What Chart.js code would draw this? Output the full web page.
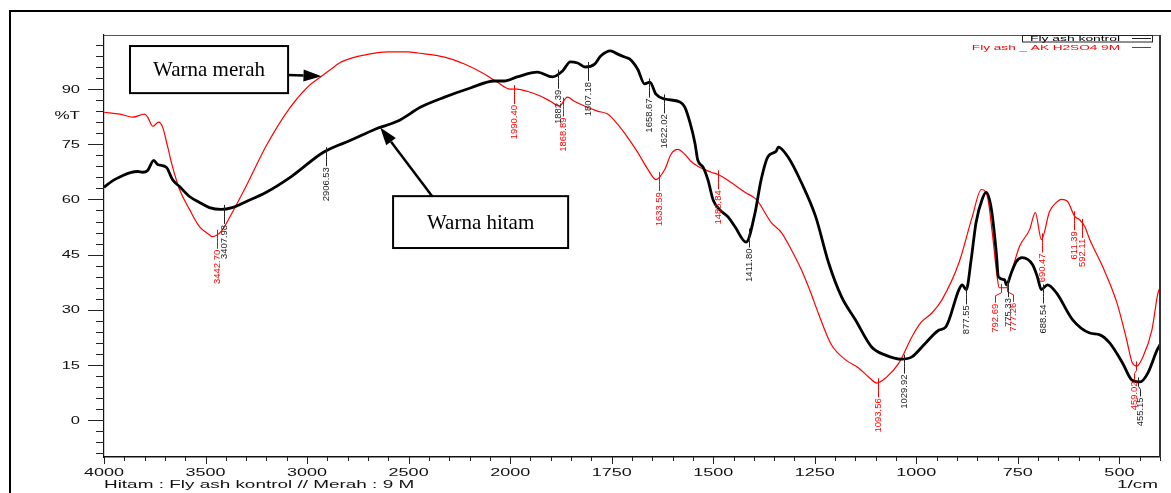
<!DOCTYPE html>
<html>
<head>
<meta charset="utf-8">
<script src="https://cdn.jsdelivr.net/npm/chart.js@4.4.1/dist/chart.umd.min.js"></script>
<style>
  html, body { margin: 0; padding: 0; background: #fff; }
  #wrap { width: 1171px; height: 493px; }
</style>
</head>
<body>
<div id="wrap"><canvas id="ftir" width="1171" height="493"></canvas></div>
<script>
// FTIR spectra, wavenumber (1/cm) vs %T
const blackWn = [4000,3960,3907,3870,3834,3809,3785,3755,3736,3692,3663,3628,3579,3530,3481,3423,3369,3301,3203,3076,2929,2861,2797,2665,2553,2440,2323,2196,2078,2029,1983,1933,1896,1871,1852,1834,1815,1792,1777,1753,1735,1718,1706,1686,1669,1656,1641,1619,1582,1570,1557,1545,1538,1525,1513,1500,1483,1463,1446,1419,1397,1382,1365,1345,1340,1315,1283,1248,1216,1184,1150,1110,1076,1036,1011,977,944,927,895,887,877,865,853,838,828,815,803,798,783,778,766,754,739,714,702,692,677,655,615,573,548,524,492,469,449,430,407,400];
const blackT  = [63.3,65.0,66.5,67.3,67.6,67.4,67.9,70.6,69.5,68.7,65.4,63.5,60.8,59.2,57.8,57.3,57.8,59.4,61.9,66.3,72.5,74.4,75.8,79.1,81.3,85.1,87.8,90.3,92.2,92.2,93.3,94.6,93.3,94.9,97.4,97.1,96.0,96.8,99.0,100.4,99.5,98.7,98.2,95.4,91.4,91.9,88.6,87.3,86.5,85.1,80.8,75.3,70.7,68.8,65.3,59.8,57.1,55.2,52.5,48.4,56.4,65.4,71.7,73.1,74.2,71.4,64.6,55.4,42.8,33.5,27.3,19.9,17.7,16.6,17.2,21.0,24.5,25.4,35.5,36.8,35.5,43.6,53.7,60.0,61.9,57.3,45.5,39.0,38.2,36.8,40.1,43.1,44.2,42.3,39.0,35.5,36.8,34.6,27.3,23.7,23.2,21.0,15.5,10.9,10.4,12.8,19.1,20.5];

const redWn = [4000,3922,3858,3800,3785,3760,3731,3711,3687,3663,3628,3579,3530,3481,3467,3423,3369,3301,3203,3090,2993,2929,2861,2831,2714,2601,2504,2455,2323,2225,2127,2064,2000,1983,1958,1926,1901,1879,1859,1842,1817,1785,1760,1735,1716,1686,1661,1641,1619,1604,1587,1570,1555,1538,1505,1488,1456,1421,1394,1357,1332,1308,1283,1261,1241,1209,1174,1142,1117,1097,1075,1043,1011,989,961,937,895,862,840,825,813,801,796,778,766,746,721,707,692,672,655,643,628,610,598,585,573,541,506,482,469,457,442,420,405,400];
const redT  = [83.7,83.2,82.4,83.2,82.4,79.9,81.0,79.6,74.4,69.0,62.7,57.3,52.6,50.4,49.9,51.3,56.4,63.5,74.4,84.5,90.8,93.5,96.3,97.4,99.3,100.1,100.1,99.8,98.7,96.8,94.1,91.9,90.0,90.0,89.4,88.1,86.7,85.4,87.8,86.7,85.4,84.0,83.2,80.4,77.7,72.8,68.2,65.4,68.2,72.3,73.6,72.3,70.4,69.0,67.4,66.8,64.6,61.9,60.0,53.7,51.0,46.4,40.9,35.0,29.0,20.5,16.4,14.2,11.7,10.1,11.5,15.5,22.6,26.5,29.2,32.7,42.8,55.4,62.7,60.8,51.0,39.0,36.0,36.0,40.1,47.2,51.8,56.4,49.1,56.7,59.2,60.0,59.5,55.4,54.5,52.6,49.1,41.7,31.9,21.8,15.8,14.7,17.2,24.5,34.6,36.0];

const blackPeaks = [3407.98, 2906.53, 1882.39, 1807.18, 1658.67, 1622.02, 1411.80, 1029.92, 877.55, 775.33, 688.54, 455.15];
const redPeaks   = [3442.70, 1990.40, 1868.89, 1633.59, 1488.84, 1093.56, 792.69, 777.26, 690.47, 611.39, 592.11, 459.02];

const xTickLabels = [4000, 3500, 3000, 2500, 2000, 1750, 1500, 1250, 1000, 750, 500];
const yTickLabels = [0, 15, 30, 45, 60, 75, 90];

// the instrument changes its x scale at 2000 1/cm (500 per division above, 250 below)
const toU = w => w >= 2000 ? (4000 - w) / 500 : 4 + (2000 - w) / 250;

function valueAt(wns, ts, w) {
  for (let i = 0; i < wns.length - 1; i++) {
    if (w <= wns[i] && w >= wns[i + 1]) {
      const f = (wns[i] - w) / (wns[i] - wns[i + 1]);
      return ts[i] + f * (ts[i + 1] - ts[i]);
    }
  }
  return ts[ts.length - 1];
}

function sText(ctx, str, x, y, sx, align, font, color) {
  ctx.save();
  ctx.translate(x, y);
  ctx.scale(sx, 1);
  ctx.font = font;
  ctx.fillStyle = color || '#000';
  ctx.textAlign = align;
  ctx.textBaseline = 'alphabetic';
  ctx.fillText(str, 0, 0);
  ctx.restore();
}

function arrow(ctx, x0, y0, x1, y1) {
  const ang = Math.atan2(y1 - y0, x1 - x0);
  const len = 18, half = 6;
  const bx = x1 - len * Math.cos(ang), by = y1 - len * Math.sin(ang);
  ctx.beginPath();
  ctx.moveTo(x0, y0);
  ctx.lineTo(bx, by);
  ctx.lineWidth = 2.5;
  ctx.strokeStyle = '#000';
  ctx.stroke();
  ctx.beginPath();
  ctx.moveTo(x1, y1);
  ctx.lineTo(bx + half * Math.sin(ang), by - half * Math.cos(ang));
  ctx.lineTo(bx - half * Math.sin(ang), by + half * Math.cos(ang));
  ctx.closePath();
  ctx.fillStyle = '#000';
  ctx.fill();
}

const labelNudge = { '792.69': -6, '777.26': 6, '455.15': 2, '459.02': -2 };

const decor = {
  id: 'decor',
  beforeDraw(chart) {
    const ctx = chart.ctx;
    ctx.save();
    ctx.fillStyle = '#fff';
    ctx.fillRect(0, 0, chart.width, chart.height);
    ctx.strokeStyle = '#000';
    ctx.lineWidth = 2;
    ctx.beginPath();
    ctx.moveTo(10, chart.height);
    ctx.lineTo(10, 11);
    ctx.lineTo(chart.width, 11);
    ctx.stroke();
    ctx.restore();
  },
  afterDraw(chart) {
    const { ctx, chartArea: a } = chart;
    const x = chart.scales.x, y = chart.scales.y;
    ctx.save();

    // plot frame top + right
    ctx.strokeStyle = '#555';
    ctx.lineWidth = 1;
    ctx.beginPath();
    ctx.moveTo(a.left, a.top + 0.5);
    ctx.lineTo(a.right, a.top + 0.5);
    ctx.stroke();
    ctx.strokeStyle = '#333';
    ctx.lineWidth = 2;
    ctx.beginPath();
    ctx.moveTo(a.right, a.top);
    ctx.lineTo(a.right, a.bottom);
    ctx.stroke();

    // y ticks
    ctx.strokeStyle = '#222';
    ctx.lineWidth = 1;
    for (let v = -9; v <= y.max; v += 3) {
      const py = Math.round(y.getPixelForValue(v)) + 0.5;
      const len = v % 15 === 0 ? 16 : 8;
      ctx.beginPath();
      ctx.moveTo(a.left - len, py);
      ctx.lineTo(a.left, py);
      ctx.stroke();
    }
    yTickLabels.forEach(v => {
      sText(ctx, String(v), a.left - 24, y.getPixelForValue(v) + 3.6, 1.65, 'right', '10px "Liberation Sans"', '#111');
    });
    sText(ctx, '%T', a.left - 24, y.getPixelForValue(83) + 4, 1.55, 'right', '11px "Liberation Sans"', '#111');

    // x ticks
    for (let k = 0; k * 0.2 <= x.max + 1e-6; k++) {
      const px = Math.round(x.getPixelForValue(k * 0.2)) + 0.5;
      const len = k % 5 === 0 ? 7 : 4;
      ctx.beginPath();
      ctx.moveTo(px, a.bottom);
      ctx.lineTo(px, a.bottom + len);
      ctx.stroke();
    }
    xTickLabels.forEach(w => {
      sText(ctx, String(w), x.getPixelForValue(toU(w)), a.bottom + 19, 1.8, 'center', '10px "Liberation Sans"', '#111');
    });
    sText(ctx, 'Hitam : Fly ash kontrol // Merah : 9 M', a.left, a.bottom + 31, 1.72, 'left', '11px "Liberation Sans"', '#111');
    sText(ctx, '1/cm', a.right - 2, a.bottom + 31, 1.72, 'right', '11px "Liberation Sans"', '#111');

    // legend (top right)
    ctx.strokeStyle = '#222';
    ctx.lineWidth = 1;
    ctx.strokeRect(a.right - 137.5, a.top + 0.5, 130, 6.5);
    sText(ctx, 'Fly ash kontrol', a.right - 40, a.top + 6, 1.73, 'right', '8px "Liberation Sans"', '#000');
    ctx.beginPath();
    ctx.moveTo(a.right - 28, a.top + 3.5);
    ctx.lineTo(a.right - 9, a.top + 3.5);
    ctx.stroke();
    sText(ctx, 'Fly ash _ AK H2SO4 9M', a.right - 40, a.top + 15, 1.7, 'right', '8px "Liberation Sans"', '#ff0000');
    ctx.strokeStyle = '#ff0000';
    ctx.beginPath();
    ctx.moveTo(a.right - 28, a.top + 12.5);
    ctx.lineTo(a.right - 9, a.top + 12.5);
    ctx.stroke();

    // peak labels
    const drawPeaks = (peaks, wns, ts, color) => {
      peaks.forEach(w => {
        const txt = w.toFixed(2);
        const px = x.getPixelForValue(toU(w));
        const py = y.getPixelForValue(valueAt(wns, ts, w));
        const lx = Math.round(px + (labelNudge[txt] || 0)) + 0.5;
        const top = py + 16;
        ctx.strokeStyle = color;
        ctx.lineWidth = 1;
        ctx.beginPath();
        ctx.moveTo(Math.round(px) + 0.5, py - 4);
        ctx.lineTo(Math.round(px) + 0.5, py + 5);
        ctx.lineTo(lx, py + 8);
        ctx.lineTo(lx, top - 1);
        ctx.stroke();
        ctx.save();
        ctx.translate(lx + 0.5, top);
        ctx.rotate(-Math.PI / 2);
        ctx.scale(1.05, 1);
        ctx.font = '9px "Liberation Sans Narrow", "Liberation Sans"';
        ctx.fillStyle = color;
        ctx.textAlign = 'right';
        ctx.textBaseline = 'middle';
        ctx.fillText(txt, 0, 0);
        ctx.restore();
      });
    };
    drawPeaks(redPeaks, redWn, redT, '#ff0000');
    drawPeaks(blackPeaks, blackWn, blackT, '#222');

    // annotation boxes
    const box = (u0, u1, v0, v1, text) => {
      const x0 = x.getPixelForValue(u0), x1 = x.getPixelForValue(u1);
      const y0 = y.getPixelForValue(v0), y1 = y.getPixelForValue(v1);
      ctx.fillStyle = '#fff';
      ctx.fillRect(x0, y0, x1 - x0, y1 - y0);
      ctx.strokeStyle = '#000';
      ctx.lineWidth = 2;
      ctx.strokeRect(x0, y0, x1 - x0, y1 - y0);
      ctx.font = '21px "Liberation Serif"';
      ctx.fillStyle = '#000';
      ctx.textAlign = 'center';
      ctx.textBaseline = 'middle';
      ctx.fillText(text, (x0 + x1) / 2, (y0 + y1) / 2 + 1);
    };
    box(0.256, 1.813, 101.7, 88.9, 'Warna merah');
    box(2.847, 4.571, 60.9, 46.8, 'Warna hitam');
    arrow(ctx, x.getPixelForValue(1.813), y.getPixelForValue(93.8),
      x.getPixelForValue(toU(2929)), y.getPixelForValue(valueAt(redWn, redT, 2929)));
    arrow(ctx, x.getPixelForValue(3.232), y.getPixelForValue(60.9),
      x.getPixelForValue(toU(2640)), y.getPixelForValue(valueAt(blackWn, blackT, 2640)));

    ctx.restore();
  }
};

new Chart(document.getElementById('ftir'), {
  type: 'line',
  data: {
    datasets: [
      {
        label: 'Fly ash kontrol',
        data: blackWn.map((w, i) => ({ x: toU(w), y: blackT[i] })),
        borderColor: '#000',
        borderWidth: 2.8,
        pointRadius: 0,
        fill: false,
        cubicInterpolationMode: 'monotone'
      },
      {
        label: 'Fly ash _ AK H2SO4 9M',
        data: redWn.map((w, i) => ({ x: toU(w), y: redT[i] })),
        borderColor: '#ff0000',
        borderWidth: 1.2,
        pointRadius: 0,
        fill: false,
        cubicInterpolationMode: 'monotone'
      }
    ]
  },
  options: {
    responsive: false,
    animation: false,
    devicePixelRatio: 1,
    layout: { padding: { top: 35, right: 11, left: 0, bottom: 0 } },
    plugins: { legend: { display: false }, tooltip: { enabled: false } },
    scales: {
      x: {
        type: 'linear',
        min: 0,
        max: 10.4,
        afterBuildTicks: s => { s.ticks = xTickLabels.map(w => ({ value: toU(w) })); },
        afterFit: s => { s.height = 36; },
        ticks: { display: false },
        grid: { display: false },
        border: { display: true, color: '#111', width: 1.5 }
      },
      y: {
        min: -10,
        max: 104.7,
        afterBuildTicks: s => { s.ticks = yTickLabels.map(v => ({ value: v })); },
        afterFit: s => { s.width = 104; },
        ticks: { display: false },
        grid: { display: false },
        border: { display: true, color: '#111', width: 1.2 }
      }
    }
  },
  plugins: [decor]
});
</script>
</body>
</html>
